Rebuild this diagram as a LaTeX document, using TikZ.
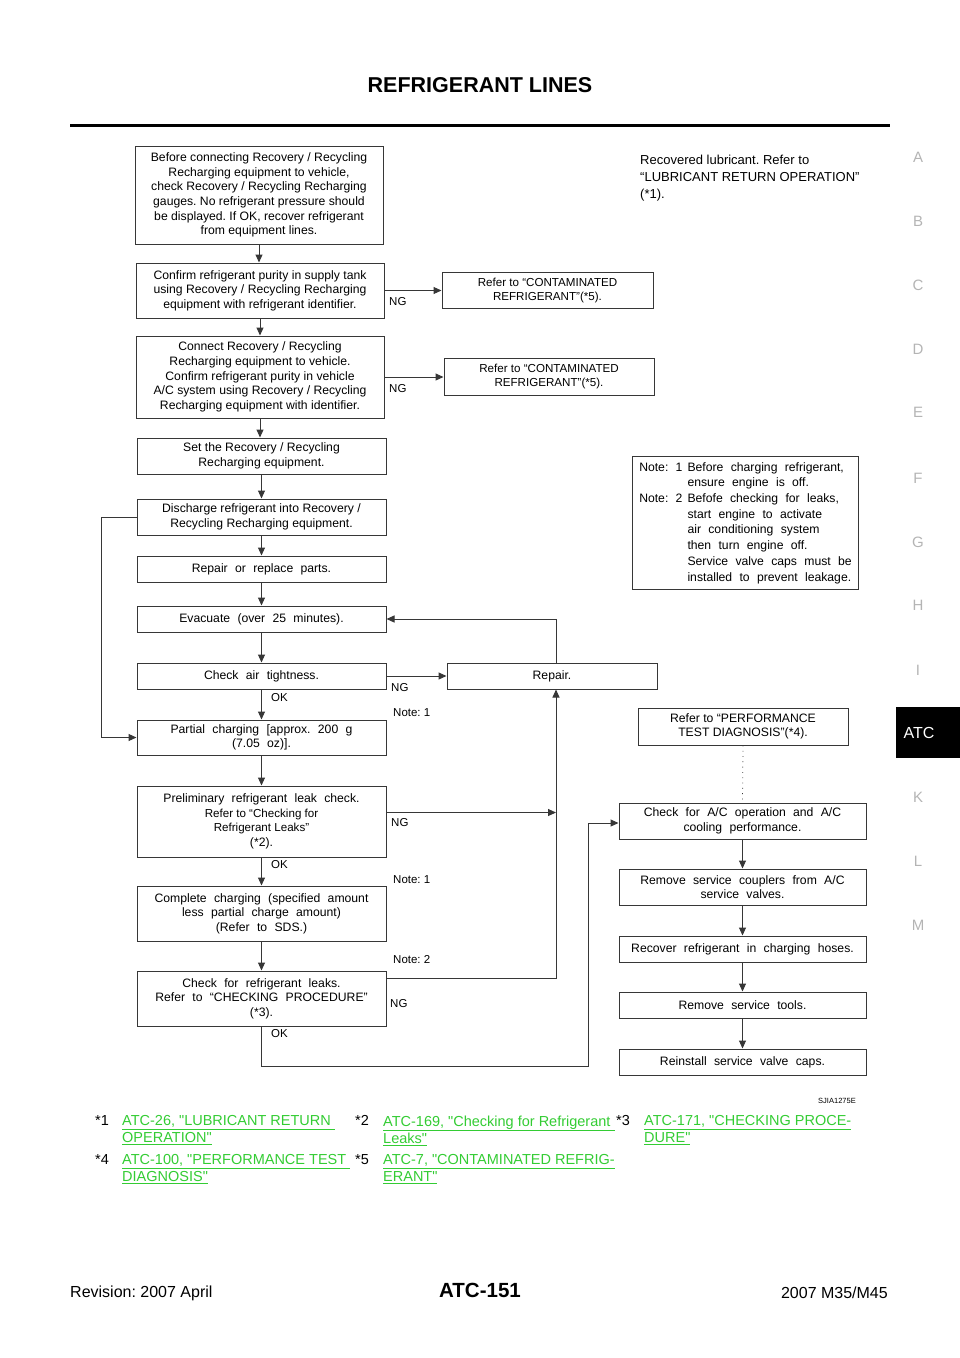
\documentclass[tikz,border=0pt]{standalone}
\usepackage{fontspec}
\setmainfont[Ligatures=TeXOff]{Liberation Sans}
\usepackage{xcolor}
\usetikzlibrary{arrows.meta,positioning,calc}
\definecolor{linegray}{RGB}{55,55,55}
\definecolor{linkgreen}{RGB}{51,204,51}
\definecolor{tabgray}{RGB}{180,180,180}
\newcommand{\boxfont}{\fontsize{12.2}{14.6}\selectfont}
\newcommand{\smallboxfont}{\fontsize{11.6}{14}\selectfont}
\newcommand{\labfont}{\fontsize{11.5}{13}\selectfont}
\newcommand{\wide}{\spaceskip=0.6em plus 0.1em\relax}
\frenchspacing

\begin{document}
\begin{tikzpicture}[
    x=1pt, y=-1pt,
    stepbox/.style={rectangle, draw=linegray, line width=1pt, align=center, font=\boxfont, inner sep=2pt, minimum width=249pt},
    widebox/.style={stepbox, font=\boxfont\wide},
    refbox/.style={stepbox, font=\smallboxfont, minimum width=211pt, minimum height=36pt},
    arr/.style={-{Triangle[length=8pt,width=7pt]}, draw=linegray, line width=1pt},
    lab/.style={font=\labfont, anchor=west, inner sep=0pt},
    tabletter/.style={font=\fontsize{15}{15}\selectfont, text=tabgray},
    fnote/.style={font=\fontsize{14.5}{17}\selectfont, anchor=north west, inner sep=0pt, align=left},
    fnlink/.style={fnote, text=linkgreen}
]
\useasboundingbox (0,0) rectangle (960,1358);

% page header
\node[font=\bfseries\fontsize{21.5}{24}\selectfont] (title) at (480,85) {REFRIGERANT LINES};
\draw[line width=3pt] (70,125) -- (890,125);

% section tabs
\foreach \tabl/\taby in {A/157,B/221,C/285,D/349,E/412,F/478,G/542,H/605,I/670,K/797,L/861,M/925}
    \node[tabletter] (tab\tabl) at (918,\taby) {\tabl};
\fill (896,707) rectangle (960,758);
\node[text=white, font=\fontsize{16}{16}\selectfont] (tabatc) at (919,733) {ATC};

% main column
\node[stepbox, minimum width=248pt, minimum height=98pt] (precheck) at (259,195) {Before connecting Recovery / Recycling\\Recharging equipment to vehicle,\\check Recovery / Recycling Recharging\\gauges. No refrigerant pressure should\\be displayed. If OK, recover refrigerant\\from equipment lines.};
\node[stepbox, minimum width=248pt, minimum height=55pt] (tankpurity) at (260,290.5) {Confirm refrigerant purity in supply tank\\using Recovery / Recycling Recharging\\equipment with refrigerant identifier.};
\node[stepbox, minimum width=248pt, minimum height=82pt] (vehpurity) at (260,377) {Connect Recovery / Recycling\\Recharging equipment to vehicle.\\Confirm refrigerant purity in vehicle\\A/C system using Recovery / Recycling\\Recharging equipment with identifier.};
\node[stepbox, minimum height=36pt] (setup) at (261.5,456) {Set the Recovery / Recycling\\Recharging equipment.};
\node[stepbox, minimum height=36pt] (discharge) at (261.5,517) {Discharge refrigerant into Recovery /\\Recycling Recharging equipment.};
\node[widebox, minimum height=26pt] (parts) at (261.5,569) {Repair or replace parts.};
\node[widebox, minimum height=26pt] (evac) at (261.5,619) {Evacuate (over 25 minutes).};
\node[widebox, minimum height=26pt] (airtight) at (261.5,676) {Check air tightness.};
\node[widebox, minimum height=35pt] (partial) at (261.5,737.5) {Partial charging [approx. 200 g\\(7.05 oz)].};
\node[stepbox, minimum height=71pt] (prelim) at (261.5,821.5) {{\wide Preliminary refrigerant leak check.}\\{\smallboxfont Refer to “Checking for}\\{\smallboxfont Refrigerant Leaks”}\\(*2).};
\node[widebox, minimum height=55pt] (complete) at (261.5,913.5) {Complete charging (specified amount\\less partial charge amount)\\(Refer to SDS.)};
\node[widebox, minimum height=55pt] (leakcheck) at (261.5,998.5) {Check for refrigerant leaks.\\Refer to “CHECKING PROCEDURE”\\(*3).};

% side boxes
\node[refbox] (contamtank) at (547.5,290) {Refer to “CONTAMINATED\\REFRIGERANT”(*5).};
\node[refbox, minimum width=210pt, minimum height=37pt] (contamveh) at (549,376.5) {Refer to “CONTAMINATED\\REFRIGERANT”(*5).};
\node[stepbox, minimum width=210pt, minimum height=26pt] (repair) at (552,676) {Repair.};
\node[font=\fontsize{13}{17}\selectfont, align=left, anchor=north west, inner sep=0pt] (lubnote) at (640,155) {Recovered lubricant. Refer to\\“LUBRICANT RETURN OPERATION”\\(*1).};
\node[draw=linegray, line width=1pt, minimum width=226pt, minimum height=133pt, anchor=north west, inner sep=0pt, font=\boxfont\wide] (notes) at (632,456) {%
    \renewcommand{\arraystretch}{1.075}%
    \begin{tabular}{@{}l@{\hspace{5pt}}l@{}}
    Note: 1 & Before charging refrigerant,\\
            & ensure engine is off.\\
    Note: 2 & Befofe checking for leaks,\\
            & start engine to activate\\
            & air conditioning system\\
            & then turn engine off.\\
            & Service valve caps must be\\
            & installed to prevent leakage.
    \end{tabular}};

% right column
\node[stepbox, minimum width=210pt, minimum height=37pt] (perf) at (743,726.5) {Refer to “PERFORMANCE\\TEST DIAGNOSIS”(*4).};
\node[widebox, minimum width=247pt, minimum height=36pt] (acop) at (742.5,821) {Check for A/C operation and A/C\\cooling performance.};
\node[widebox, minimum width=247pt, minimum height=36pt] (couplers) at (742.5,887) {Remove service couplers from A/C\\service valves.};
\node[widebox, minimum width=247pt, minimum height=26pt] (hoses) at (742.5,949) {Recover refrigerant in charging hoses.};
\node[widebox, minimum width=247pt, minimum height=26pt] (tools) at (742.5,1005) {Remove service tools.};
\node[widebox, minimum width=247pt, minimum height=26pt] (caps) at (742.5,1062) {Reinstall service valve caps.};

% labels
\node[lab] (ngtank) at (389,302) {NG};
\node[lab] (ngveh) at (389,389) {NG};
\node[lab] (ngair) at (391,688) {NG};
\node[lab] (ngprelim) at (391,823) {NG};
\node[lab] (ngleak) at (390,1004) {NG};
\node[lab] (okair) at (271,698) {OK};
\node[lab] (okprelim) at (271,865) {OK};
\node[lab] (okleak) at (271,1034) {OK};
\node[lab] (notepartial) at (393,713) {Note: 1};
\node[lab] (notecomplete) at (393,880) {Note: 1};
\node[lab] (noteleak) at (393,960) {Note: 2};

% turning points
\coordinate (bus) at (556,0);
\coordinate (loopx) at (101,0);
\coordinate (okturn) at (588,1066);
\coordinate (prelimng) at ([yshift=-27pt]prelim.north east);
\coordinate (leakng) at ([yshift=-8pt]leakcheck.north east);

% main flow
\draw[arr] (precheck.south) -- (precheck.south |- tankpurity.north);
\draw[arr] (tankpurity.south) -- (tankpurity.south |- vehpurity.north);
\draw[arr] (vehpurity.south) -- (vehpurity.south |- setup.north);
\draw[arr] (setup) -- (discharge);
\draw[arr] (discharge) -- (parts);
\draw[arr] (parts) -- (evac);
\draw[arr] (evac) -- (airtight);
\draw[arr] (airtight) -- (partial);
\draw[arr] (partial) -- (prelim);
\draw[arr] (prelim) -- (complete);
\draw[arr] (complete) -- (leakcheck);

% NG branches
\draw[arr] (tankpurity.east) -- (tankpurity.east -| contamtank.west);
\draw[arr] (vehpurity.east) -- (vehpurity.east -| contamveh.west);
\draw[arr] (airtight.east) -- (repair.west);
\draw[arr] ([xshift=4pt]repair.north) |- (evac.east);
\draw[arr] (prelimng) -- (prelimng -| bus);
\draw[arr] (leakng) -| ([xshift=4pt]repair.south);
\draw[arr] (discharge.west) -- (discharge.west -| loopx) |- (partial.west);

% OK to final checks
\draw[arr] (leakcheck.south) |- (okturn) |- ([yshift=-2pt]acop.west);
\draw[linegray, line width=0.8pt, dash pattern=on 0.8pt off 4.5pt] (perf.south) -- (acop.north);
\draw[arr] (acop) -- (couplers);
\draw[arr] (couplers) -- (hoses);
\draw[arr] (hoses) -- (tools);
\draw[arr] (tools) -- (caps);

\node[font=\fontsize{7.5}{8}\selectfont] (figid) at (837,1101) {SJIA1275E};

% footnotes
\node[fnote] (fnmark1) at (95,1115.5) {*1};
\node[fnlink] (fnlink1) at (122,1115.5) {\underline{ATC-26, "LUBRICANT RETURN }\\\underline{OPERATION"}};
\node[fnote] (fnmark2) at (355,1115.5) {*2};
\node[fnlink] (fnlink2) at (383,1115.5) {\underline{ATC-169, "Checking for Refrigerant }\\\underline{Leaks"}};
\node[fnote] (fnmark3) at (616,1115.5) {*3};
\node[fnlink] (fnlink3) at (644,1115.5) {\underline{ATC-171, "CHECKING PROCE-}\\\underline{DURE"}};
\node[fnote] (fnmark4) at (95,1154.5) {*4};
\node[fnlink] (fnlink4) at (122,1154.5) {\underline{ATC-100, "PERFORMANCE TEST }\\\underline{DIAGNOSIS"}};
\node[fnote] (fnmark5) at (355,1154.5) {*5};
\node[fnlink] (fnlink5) at (383,1154.5) {\underline{ATC-7, "CONTAMINATED REFRIG-}\\\underline{ERANT"}};

% page footer
\node[font=\fontsize{16}{16}\selectfont, anchor=west, inner sep=0pt] (revision) at (70,1293) {Revision: 2007 April};
\node[font=\bfseries\fontsize{20.5}{20}\selectfont] (pageno) at (480,1290) {ATC-151};
\node[font=\fontsize{16}{16}\selectfont, anchor=east, inner sep=0pt] (model) at (888,1293) {2007 M35/M45};
\end{tikzpicture}
\end{document}
